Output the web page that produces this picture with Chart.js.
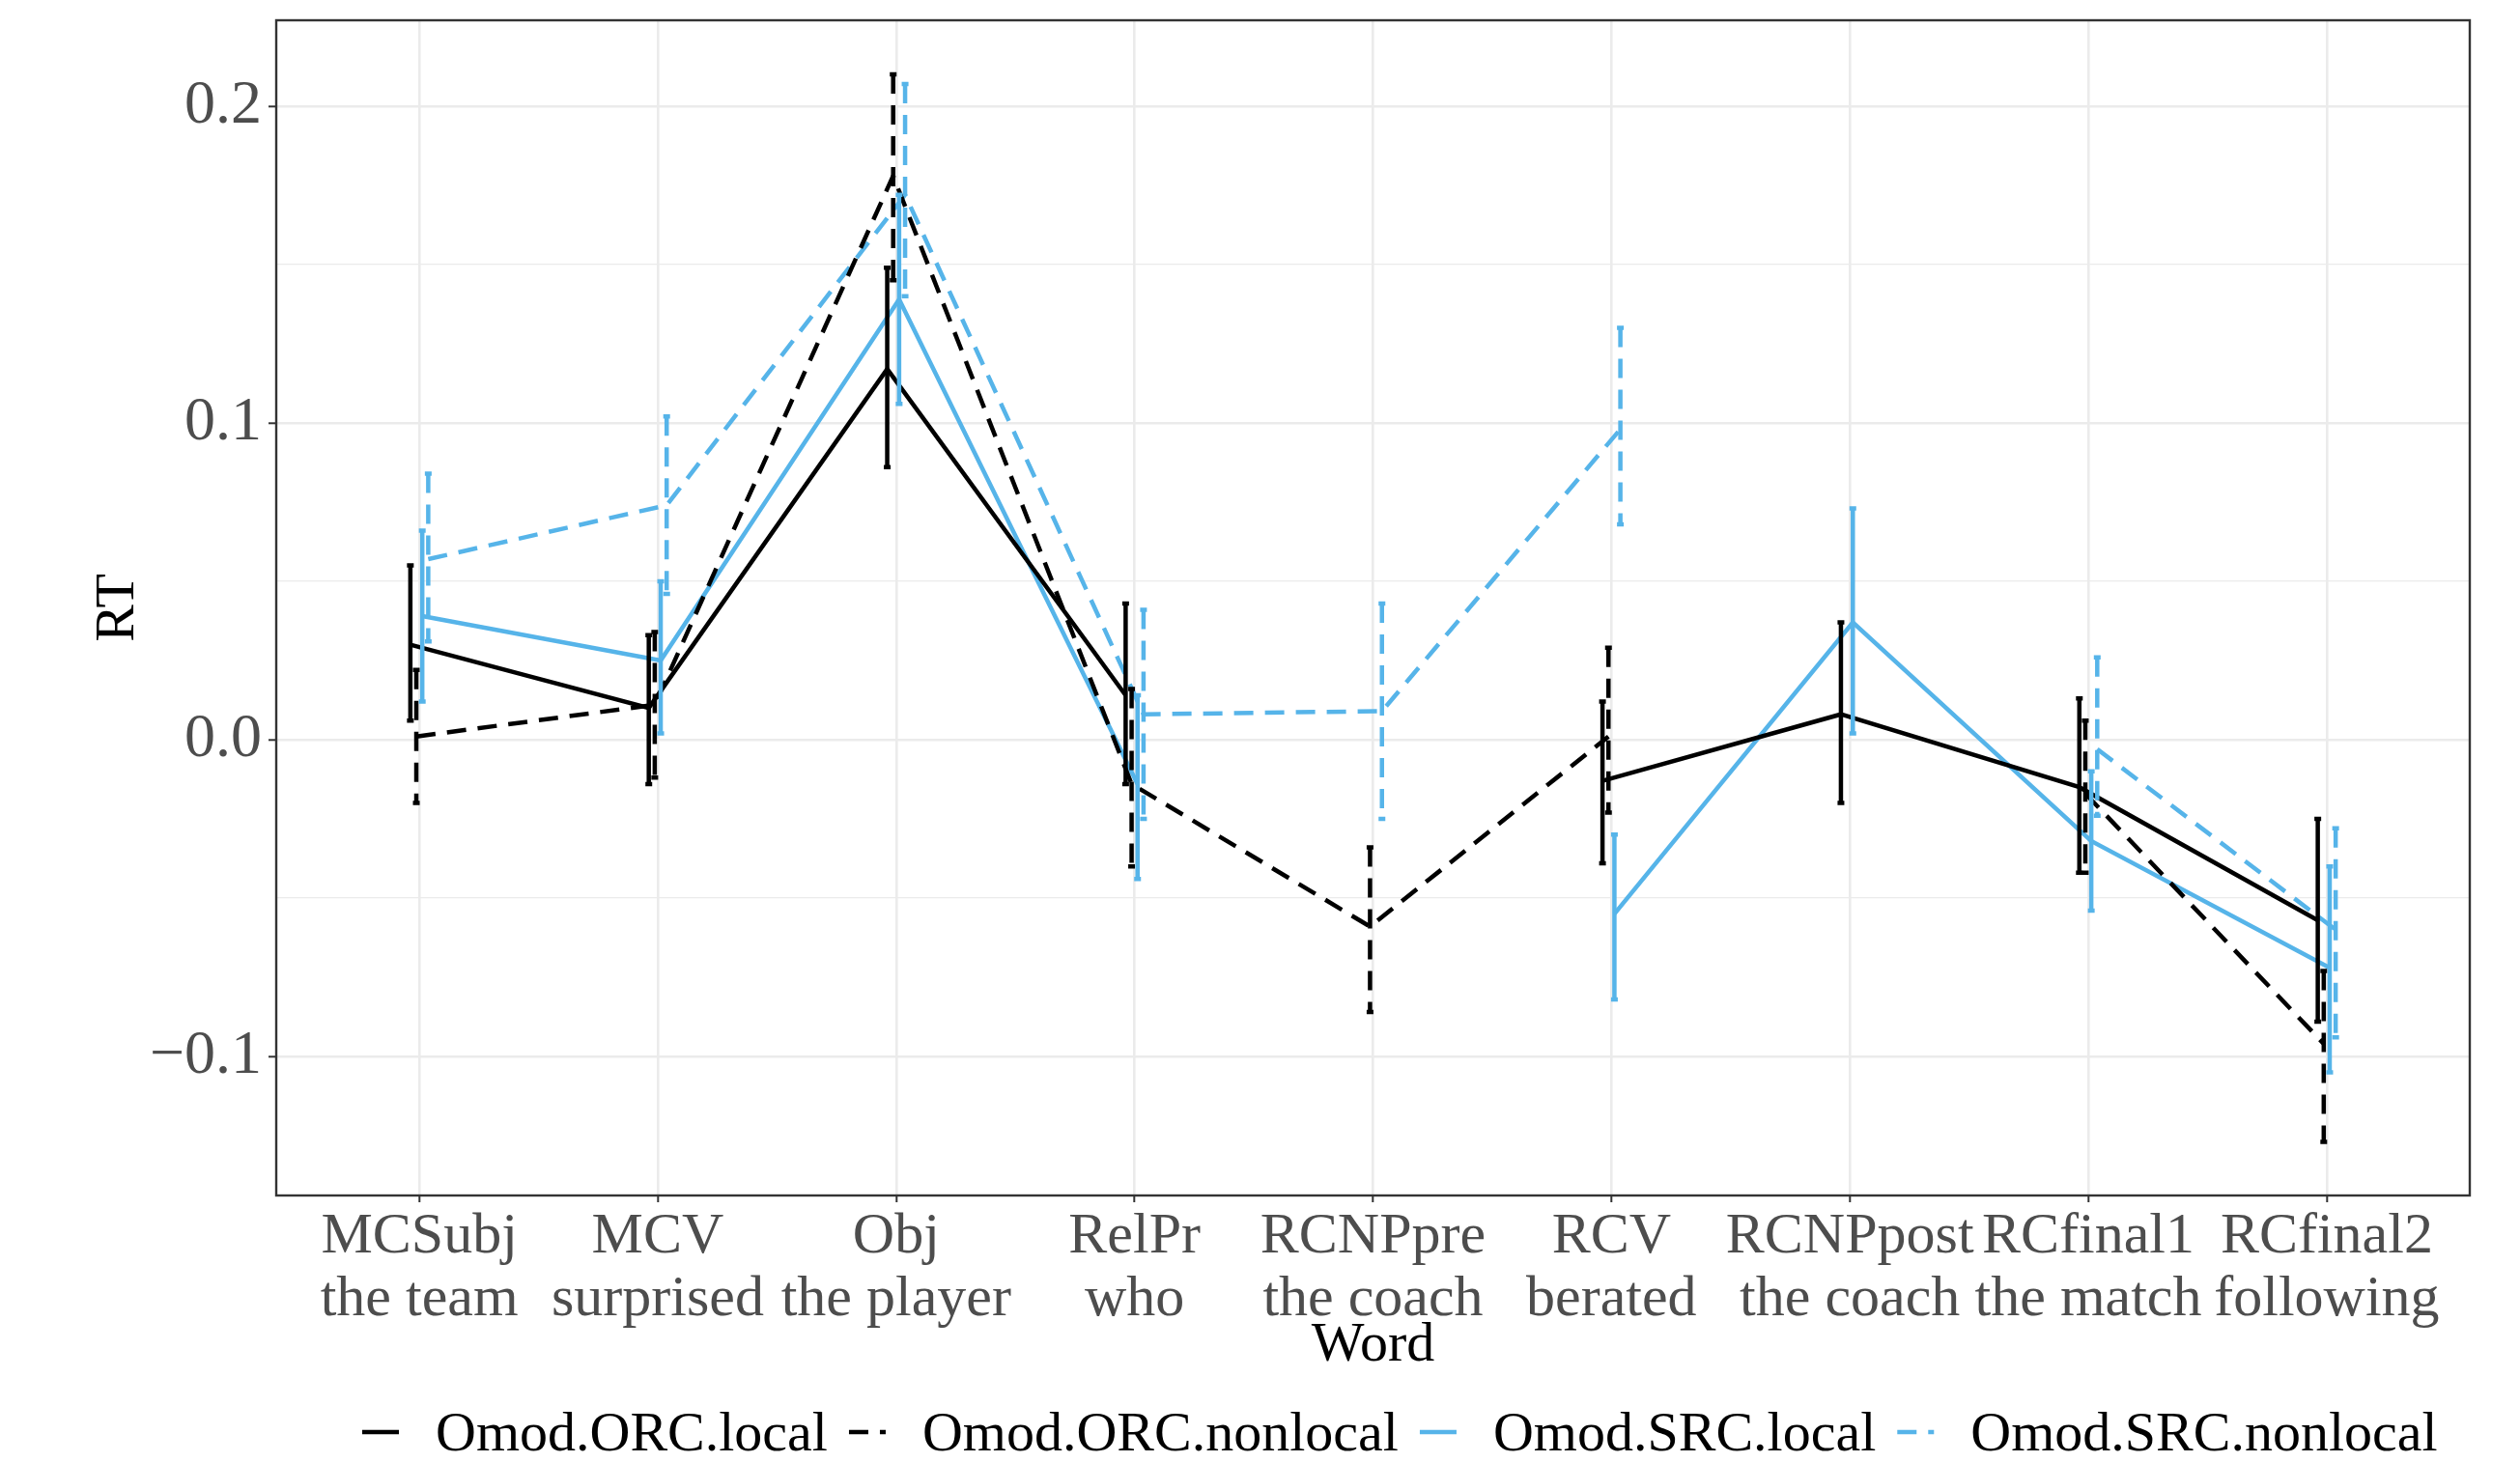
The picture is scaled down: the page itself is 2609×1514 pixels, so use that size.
<!DOCTYPE html>
<html>
<head>
<meta charset="utf-8">
<script src="https://cdn.jsdelivr.net/npm/chart.js@4.4.1/dist/chart.umd.min.js"></script>
<style>
  html, body { margin: 0; padding: 0; background: #ffffff; }
  #wrap { width: 2609px; height: 1514px; }
</style>
</head>
<body>
<div id="wrap"><canvas id="chart" width="2609" height="1514"></canvas></div>
<script>
// categories (two-line tick labels)
const categories = [
  ['MCSubj', 'the team'], ['MCV', 'surprised'], ['Obj', 'the player'], ['RelPr', 'who'],
  ['RCNPpre', 'the coach'], ['RCV', 'berated'], ['RCNPpost', 'the coach'],
  ['RCfinal1', 'the match'], ['RCfinal2', 'following']
];
const seriesNames = ['Omod.ORC.local', 'Omod.ORC.nonlocal', 'Omod.SRC.local', 'Omod.SRC.nonlocal'];

// means and error bar limits
const orcLocal      = [0.030, 0.010, 0.117, 0.014, null, -0.013, 0.008, -0.015, -0.057];
const orcLocalLo    = [0.006, -0.014, 0.086, -0.014, null, -0.039, -0.020, -0.042, -0.089];
const orcLocalHi    = [0.055, 0.033, 0.149, 0.043, null, 0.012, 0.037, 0.013, -0.025];

const orcNonlocal   = [0.001, 0.011, 0.178, -0.014, -0.059, 0.001, null, -0.017, -0.096];
const orcNonlocalLo = [-0.020, -0.012, 0.145, -0.040, -0.086, -0.023, null, -0.042, -0.127];
const orcNonlocalHi = [0.022, 0.034, 0.210, 0.016, -0.034, 0.029, null, 0.006, -0.073];

const srcLocal      = [0.039, 0.025, 0.139, -0.014, null, -0.055, 0.037, -0.032, -0.072];
const srcLocalLo    = [0.012, 0.002, 0.106, -0.044, null, -0.082, 0.002, -0.054, -0.105];
const srcLocalHi    = [0.066, 0.050, 0.172, 0.014, null, -0.030, 0.073, -0.010, -0.040];

const srcNonlocal   = [0.057, 0.074, 0.172, 0.008, 0.009, 0.098, null, -0.003, -0.060];
const srcNonlocalLo = [0.031, 0.046, 0.140, -0.025, -0.025, 0.068, null, -0.024, -0.094];
const srcNonlocalHi = [0.084, 0.102, 0.207, 0.041, 0.043, 0.130, null, 0.026, -0.028];

const yTickLabels = ['\u22120.1', '0.0', '0.1', '0.2'];

const FONT = '"Liberation Serif", "Times New Roman", serif';
const BLACK = '#000000';
const BLUE = '#56B4E9';
const DASH = [20, 12];
const dodge = [-0.0375, -0.0125, 0.0125, 0.0375];

const means = [orcLocal, orcNonlocal, srcLocal, srcNonlocal];
const lows = [orcLocalLo, orcNonlocalLo, srcLocalLo, srcNonlocalLo];
const highs = [orcLocalHi, orcNonlocalHi, srcLocalHi, srcNonlocalHi];
const colors = [BLACK, BLACK, BLUE, BLUE];
const dashes = [[], DASH, [], DASH];

const datasets = seriesNames.map((name, s) => ({
  label: name,
  data: means[s].map((m, i) => ({ x: i + dodge[s], y: m })),
  borderColor: colors[s],
  backgroundColor: colors[s],
  borderWidth: 4.5,
  borderDash: dashes[s],
  pointRadius: 0,
  tension: 0,
  fill: false
}));

// error bars drawn through the chart scales
const errorBars = {
  id: 'errorBars',
  afterDatasetsDraw(chart) {
    const { ctx, scales: { x, y } } = chart;
    ctx.save();
    means.forEach((arr, s) => {
      ctx.strokeStyle = colors[s];
      ctx.lineWidth = 4.5;
      ctx.setLineDash(dashes[s]);
      arr.forEach((m, i) => {
        if (m === null) return;
        const px = x.getPixelForValue(i + dodge[s]);
        const top = y.getPixelForValue(highs[s][i]);
        const bot = y.getPixelForValue(lows[s][i]);
        ctx.beginPath();
        ctx.moveTo(px - 3.5, top);
        ctx.lineTo(px + 3.5, top);
        ctx.moveTo(px, top);
        ctx.lineTo(px, bot);
        ctx.moveTo(px - 3.5, bot);
        ctx.lineTo(px + 3.5, bot);
        ctx.stroke();
      });
    });
    ctx.restore();
  }
};

// panel border, axis titles and bottom legend
const decorations = {
  id: 'decorations',
  afterDraw(chart) {
    const { ctx, chartArea: a } = chart;
    ctx.save();
    ctx.strokeStyle = '#333333';
    ctx.lineWidth = 2.4;
    ctx.setLineDash([]);
    ctx.strokeRect(a.left, a.top, a.right - a.left, a.bottom - a.top);

    ctx.fillStyle = '#000000';
    ctx.font = '58px ' + FONT;
    ctx.textAlign = 'center';
    ctx.textBaseline = 'alphabetic';
    ctx.fillText('Word', (a.left + a.right) / 2, 1409);

    ctx.save();
    ctx.translate(138, (a.top + a.bottom) / 2);
    ctx.rotate(-Math.PI / 2);
    ctx.fillText('RT', 0, 0);
    ctx.restore();

    ctx.font = '58px ' + FONT;
    ctx.textAlign = 'left';
    let xPos = 375;
    const keyY = 1483;
    seriesNames.forEach((name, s) => {
      ctx.strokeStyle = colors[s];
      ctx.lineWidth = 4.5;
      ctx.setLineDash(dashes[s]);
      ctx.beginPath();
      ctx.moveTo(xPos, keyY);
      ctx.lineTo(xPos + 38, keyY);
      ctx.stroke();
      xPos += 76;
      ctx.fillText(name, xPos, 1502);
      xPos += ctx.measureText(name).width + 22;
    });
    ctx.restore();
  }
};

const isMajor = v => Math.abs(v * 10 - Math.round(v * 10)) < 1e-6;

new Chart(document.getElementById('chart').getContext('2d'), {
  type: 'line',
  data: { datasets: datasets },
  options: {
    responsive: false,
    animation: false,
    devicePixelRatio: 1,
    layout: { padding: { top: 21, right: 52, left: 0, bottom: 0 } },
    plugins: { legend: { display: false }, tooltip: { enabled: false } },
    scales: {
      x: {
        type: 'linear',
        min: -0.6,
        max: 8.6,
        afterFit: s => {
          s.height = 276;
          s.paddingLeft = 0; s.paddingRight = 0;
        },
        border: { display: false },
        grid: { color: '#EBEBEB', lineWidth: 2.6, tickLength: 7, tickColor: '#333333', tickWidth: 2 },
        ticks: {
          stepSize: 1,
          includeBounds: false,
          autoSkip: false,
          maxRotation: 0,
          padding: 4,
          color: '#4D4D4D',
          font: { family: FONT, size: 60, lineHeight: 1.08 },
          callback: v => Number.isInteger(v) && categories[v] ? categories[v] : ''
        }
      },
      y: {
        type: 'linear',
        min: -0.1439,
        max: 0.2271,
        afterFit: s => {
          s.width = 286;
          s.paddingTop = 0; s.paddingBottom = 0;
        },
        border: { display: false },
        grid: {
          color: '#EBEBEB',
          lineWidth: c => isMajor(c.tick.value) ? 2.6 : 1.3,
          tickLength: 8,
          tickColor: c => isMajor(c.tick.value) ? '#333333' : 'rgba(0,0,0,0)',
          tickWidth: 2
        },
        ticks: {
          stepSize: 0.05,
          includeBounds: false,
          padding: 7,
          color: '#4D4D4D',
          font: { family: FONT, size: 64 },
          callback: v => {
            if (!isMajor(v)) return '';
            const k = Math.round(v * 10) + 1;
            return yTickLabels[k] !== undefined ? yTickLabels[k] : '';
          }
        }
      }
    }
  },
  plugins: [errorBars, decorations]
});
</script>
</body>
</html>
